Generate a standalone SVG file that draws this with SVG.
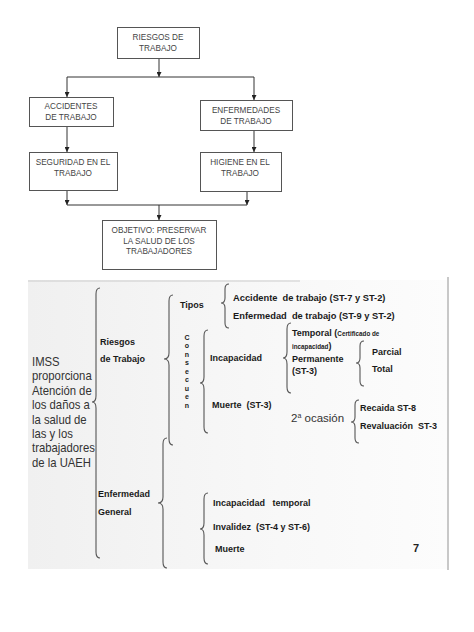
<svg xmlns="http://www.w3.org/2000/svg" width="474" height="632" viewBox="0 0 474 632">
<defs>
<style>
.box{fill:#fff;stroke:#555;stroke-width:1}
.bt{font-family:"Liberation Sans",Arial,sans-serif;font-size:8.2px;fill:#444;text-anchor:middle}
.conn{fill:none;stroke:#333;stroke-width:1}
.br{fill:none;stroke:#555;stroke-width:1.1}
.b{font-family:"Liberation Sans",Arial,sans-serif;font-size:9px;font-weight:bold;fill:#1a1a1a}
.b2{font-size:9.3px}
.sm{font-size:6.3px}
.big{font-family:"Liberation Sans",Arial,sans-serif;font-size:13px;fill:#333}
</style>
<marker id="ah" markerWidth="5" markerHeight="5" refX="5" refY="2.5" orient="auto" markerUnits="userSpaceOnUse"><path d="M0,0 L5,2.5 L0,5 z" fill="#222"/></marker>
<linearGradient id="bg" x1="0" y1="0" x2="1" y2="0"><stop offset="0" stop-color="#f0f0f0"/><stop offset="0.6" stop-color="#f8f8f8"/><stop offset="1" stop-color="#fcfcfc"/></linearGradient>
<linearGradient id="tl" x1="0" y1="0" x2="1" y2="0"><stop offset="0" stop-color="#666"/><stop offset="0.55" stop-color="#555"/><stop offset="1" stop-color="#ddd"/></linearGradient>
</defs>
<rect width="474" height="632" fill="#fff"/>

<g id="connectors">
<path class="conn" d="M159 58 V77" marker-end="url(#ah)"/>
<path class="conn" d="M67 77 H254"/>
<path class="conn" d="M67 77 V97" marker-end="url(#ah)"/>
<path class="conn" d="M254 77 V100" marker-end="url(#ah)"/>
<path class="conn" d="M67 126 V152" marker-end="url(#ah)"/>
<path class="conn" d="M254 130 V152" marker-end="url(#ah)"/>
<path class="conn" d="M67 190 V205" marker-end="url(#ah)"/>
<path class="conn" d="M247 191 V205" marker-end="url(#ah)"/>
<path class="conn" d="M67 205 H247"/>
<path class="conn" d="M159 205 V220" marker-end="url(#ah)"/>
</g>

<g id="riesgos">
<rect class="box" x="117.5" y="27.5" width="82" height="31"/>
<text class="bt" x="158" y="40">RIESGOS DE</text>
<text class="bt" x="158" y="51">TRABAJO</text>
</g>
<g id="accidentes">
<rect class="box" x="29.5" y="97.5" width="84" height="29"/>
<text class="bt" x="71" y="109">ACCIDENTES</text>
<text class="bt" x="71" y="120">DE TRABAJO</text>
</g>
<g id="enfermedades">
<rect class="box" x="200.5" y="100.5" width="92" height="30"/>
<text class="bt" x="246" y="113">ENFERMEDADES</text>
<text class="bt" x="246" y="124">DE TRABAJO</text>
</g>
<g id="seguridad">
<rect class="box" x="29.5" y="152.5" width="88" height="38"/>
<text class="bt" x="73" y="165">SEGURIDAD EN EL</text>
<text class="bt" x="73" y="176">TRABAJO</text>
</g>
<g id="higiene">
<rect class="box" x="200.5" y="152.5" width="81" height="39"/>
<text class="bt" x="240" y="165">HIGIENE EN EL</text>
<text class="bt" x="240" y="176">TRABAJO</text>
</g>
<g id="objetivo">
<rect class="box" x="102.5" y="220.5" width="114" height="49"/>
<text class="bt" x="159" y="233">OBJETIVO: PRESERVAR</text>
<text class="bt" x="159" y="244">LA SALUD DE LOS</text>
<text class="bt" x="159" y="254">TRABAJADORES</text>
</g>

<g id="slide">
<rect x="28" y="280" width="420" height="289" fill="url(#bg)"/>
<path d="M28 277.5 H448" stroke="url(#tl)" stroke-width="2" fill="none"/>
<path d="M28 281 H300" stroke="#ccc" stroke-width="1" fill="none"/>
<path d="M448 277 V570" stroke="#c8c8c8" stroke-width="2" fill="none"/>

<g transform="translate(32,0) scale(0.87,1)">
<text class="big" x="0" y="366">IMSS</text>
<text class="big" x="0" y="380.4">proporciona</text>
<text class="big" x="0" y="394.8">Atención de</text>
<text class="big" x="0" y="409.2">los daños a</text>
<text class="big" x="0" y="423.6">la salud de</text>
<text class="big" x="0" y="438">las y los</text>
<text class="big" x="0" y="452.4">trabajadores</text>
<text class="big" x="0" y="466.8">de la UAEH</text>
</g>

<path class="br" d="M100 288 Q96 288 96 294 L96 396 Q96 402 92 402 Q96 402 96 408 L96 552 Q96 558 100 558"/>
<path class="br" d="M173 295 Q169 295 169 301 L169 353 Q169 359 164 359 Q169 359 169 365 L169 439 Q169 445 173 445"/>
<path class="br" d="M167 438 Q163 438 163 444 L163 497 Q163 503 158 503 Q163 503 163 509 L163 562 Q163 568 167 568"/>
<path class="br" d="M229 284 Q225 284 225 289 L225 298 Q225 303 221 303 Q225 303 225 308 L225 323 Q225 328 229 328"/>
<path class="br" d="M208 330 Q204 330 204 336 L204 377 Q204 383 200 383 Q204 383 204 389 L204 427 Q204 433 208 433"/>
<path class="br" d="M291 323 Q287 323 287 329 L287 352 Q287 358 283 358 Q287 358 287 364 L287 387 Q287 393 291 393"/>
<path class="br" d="M364 341 Q360 341 360 346 L360 358 Q360 363 356 363 Q360 363 360 368 L360 381 Q360 386 364 386"/>
<path class="br" d="M359 400 Q355 400 355 405 L355 417 Q355 422 351 422 Q355 422 355 427 L355 438 Q355 443 359 443" stroke="#bbb"/>
<path class="br" d="M208 493 Q204 493 204 499 L204 523 Q204 529 200 529 Q204 529 204 535 L204 558 Q204 564 208 564"/>

<text class="b" x="100" y="345">Riesgos</text>
<text class="b" x="100" y="362">de Trabajo</text>
<text class="b" x="180" y="308">Tipos</text>
<g class="b" style="font-size:7px" text-anchor="middle">
<text x="187" y="339.5">C</text>
<text x="187" y="348">o</text>
<text x="187" y="356.5">n</text>
<text x="187" y="365">s</text>
<text x="187" y="373.5">e</text>
<text x="187" y="382">c</text>
<text x="187" y="390.5">u</text>
<text x="187" y="399">e</text>
<text x="187" y="407.5">n</text>
</g>
<text class="b b2" x="233" y="301" xml:space="preserve">Accidente  de trabajo (ST-7 y ST-2)</text>
<text class="b b2" x="233" y="319" xml:space="preserve">Enfermedad  de trabajo (ST-9 y ST-2)</text>
<text class="b" x="210" y="361">Incapacidad</text>
<text class="b" x="212" y="408" xml:space="preserve">Muerte  (ST-3)</text>
<text class="b" x="292" y="336">Temporal (<tspan class="sm">Certificado de</tspan></text>
<text class="b" x="292" y="349"><tspan class="sm">incapacidad</tspan>)</text>
<text class="b" x="292" y="362">Permanente</text>
<text class="b" x="292" y="374">(ST-3)</text>
<text class="b" x="372" y="355">Parcial</text>
<text class="b" x="372" y="372">Total</text>
<text x="291" y="422" style="font-family:'Liberation Sans',Arial,sans-serif;font-size:11.5px;fill:#333">2<tspan style="font-size:7px" dy="-4">a</tspan><tspan dy="4"> ocasión</tspan></text>
<text class="b" x="360" y="411">Recaida ST-8</text>
<text class="b" x="360" y="429" xml:space="preserve">Revaluación  ST-3</text>
<text class="b" x="98" y="497">Enfermedad</text>
<text class="b" x="98" y="515">General</text>
<text class="b" x="213" y="506" xml:space="preserve">Incapacidad   temporal</text>
<text class="b" x="213" y="530" xml:space="preserve">Invalidez  (ST-4 y ST-6)</text>
<text class="b" x="215" y="552">Muerte</text>
<text x="413" y="552" style="font-family:'Liberation Sans',Arial,sans-serif;font-size:11px;font-weight:bold;fill:#222">7</text>
</g>
</svg>
